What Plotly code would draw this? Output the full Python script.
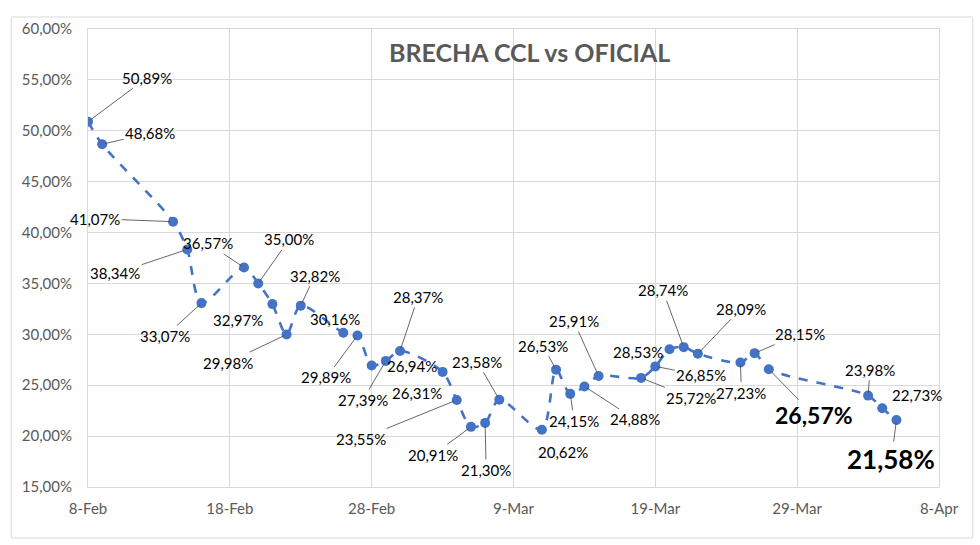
import plotly.graph_objects as go

dates = ["2024-02-08", "2024-02-09", "2024-02-14", "2024-02-15", "2024-02-16",
         "2024-02-19", "2024-02-20", "2024-02-21", "2024-02-22", "2024-02-23",
         "2024-02-26", "2024-02-27", "2024-02-28", "2024-02-29", "2024-03-01",
         "2024-03-04", "2024-03-05", "2024-03-06", "2024-03-07", "2024-03-08",
         "2024-03-11", "2024-03-12", "2024-03-13", "2024-03-14", "2024-03-15",
         "2024-03-18", "2024-03-19", "2024-03-20", "2024-03-21", "2024-03-22",
         "2024-03-25", "2024-03-26", "2024-03-27", "2024-04-03", "2024-04-04",
         "2024-04-05"]
brecha = [50.89, 48.68, 41.07, 38.34, 33.07,
          36.57, 35.00, 32.97, 29.98, 32.82,
          30.16, 29.89, 26.94, 27.39, 28.37,
          26.31, 23.55, 20.91, 21.30, 23.58,
          20.62, 26.53, 24.15, 24.88, 25.91,
          25.72, 26.85, 28.53, 28.74, 28.09,
          27.23, 28.15, 26.57, 23.98, 22.73,
          21.58]

x_tickvals = ["2024-02-08", "2024-02-18", "2024-02-28", "2024-03-09",
              "2024-03-19", "2024-03-29", "2024-04-08"]
x_ticktext = ["8-Feb", "18-Feb", "28-Feb", "9-Mar", "19-Mar", "29-Mar", "8-Apr"]

title_text = "BRECHA CCL vs OFICIAL"

# label offsets (pixels) relative to each point, and whether a leader line is shown
label_dx = [59, 48, -78, -72, -36, -36, 31, -34, -59, 14,
            -8, -31, 40, -23, 18, -26, -96, -38, 1, -22,
            21, -13, 4, 51, -25, 50, 46, -32, -21, 43,
            1, 45, 45, 2, 35, -5]
label_dy = [-44, -11, -3, 24, 33, -24, -44, 16, 28, -30,
            -14, 42, 1, 39, -54, 21, 39, 28, 47, -38,
            22, -24, 27, 33, -55, 20, 9, 3, -57, -45,
            30, -19, 46, -26, -13, 39]
leader = [True, True, True, True, True, True, True, False, True, True,
          False, True, False, True, True, False, True, True, True, True,
          False, True, True, True, True, True, True, False, True, True,
          True, True, True, True, False, True]
big_labels = {32: 23, 35: 26}

blue = "#4472C4"
gray_text = "#595959"
grid = "#D9D9D9"

fig = go.Figure()
fig.add_trace(go.Scatter(
    x=dates, y=brecha, mode="lines+markers",
    line=dict(color=blue, width=2.6, dash="dash", shape="spline", smoothing=0.8),
    marker=dict(color=blue, size=10),
    hoverinfo="skip", showlegend=False,
))

annotations = []
for i, (d, v) in enumerate(zip(dates, brecha)):
    txt = f"{v:.2f}".replace(".", ",") + "%"
    fsize = big_labels.get(i, 15)
    if i in big_labels:
        txt = "<b>" + txt + "</b>"
    if leader[i]:
        annotations.append(dict(
            x=d, y=v, xref="x", yref="y", text=txt, showarrow=True,
            ax=label_dx[i], ay=label_dy[i], arrowhead=0, arrowwidth=0.8,
            arrowcolor="#404040", standoff=3,
            font=dict(family="Lato", size=fsize, color="#000000"),
        ))
    else:
        annotations.append(dict(
            x=d, y=v, xref="x", yref="y", text=txt, showarrow=False,
            xshift=label_dx[i], yshift=-label_dy[i],
            font=dict(family="Lato", size=fsize, color="#000000"),
        ))

annotations.append(dict(
    x=0.519, y=(487 - 52) / 458, xref="paper", yref="paper",
    text="<b>" + title_text + "</b>", yanchor="middle",
    showarrow=False, font=dict(family="Lato", size=25, color=gray_text),
))

fig.update_layout(
    width=980, height=545,
    margin=dict(l=88, r=41, t=29, b=58),
    paper_bgcolor="white", plot_bgcolor="white",
    separators=",.",
    annotations=annotations,
    xaxis=dict(
        type="date", range=["2024-02-08", "2024-04-08"],
        tickvals=x_tickvals, ticktext=x_ticktext,
        showgrid=True, gridcolor=grid, gridwidth=1,
        showline=True, linecolor=grid, mirror=True,
        ticks="", zeroline=False, ticklabelstandoff=8,
        tickfont=dict(family="Lato", size=15, color=gray_text),
    ),
    yaxis=dict(
        range=[15, 60], dtick=5, tick0=15,
        tickformat=".2f", ticksuffix="%",
        showgrid=True, gridcolor=grid, gridwidth=1,
        showline=True, linecolor=grid, mirror=True,
        ticks="", zeroline=False, ticklabelstandoff=12,
        tickfont=dict(family="Lato", size=15, color=gray_text),
    ),
    shapes=[dict(
        type="rect", xref="paper", yref="paper",
        x0=(11 - 87.7) / 851.6, x1=(973 - 87.7) / 851.6,
        y0=(487 - 538) / 458, y1=(487 - 17) / 458,
        line=dict(color=grid, width=1), fillcolor="rgba(0,0,0,0)", layer="below",
    )],
)

fig.write_html("out.html")
